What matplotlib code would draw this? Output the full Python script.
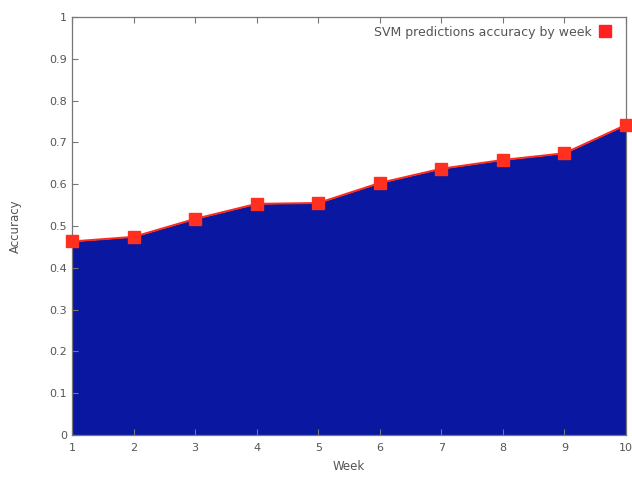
import numpy as np
import matplotlib
matplotlib.use("Agg")
import matplotlib.pyplot as plt
from matplotlib.lines import Line2D
from matplotlib.ticker import FuncFormatter

weeks = [1, 2, 3, 4, 5, 6, 7, 8, 9, 10]
accuracy = [0.463, 0.474, 0.517, 0.553, 0.555, 0.603, 0.637, 0.658, 0.674, 0.742]
label = "SVM predictions accuracy by week"

fig = plt.figure(figsize=(6.32, 4.79), dpi=100)
ax = fig.add_axes([0.114, 0.092, 0.8765, 0.8725])

ax.fill_between(weeks, accuracy, 0, color="#0a17a0", linewidth=0)
ax.plot(weeks, accuracy, color="#ff2a1a", linewidth=1.4, marker="s",
        markersize=8, markerfacecolor="#ff3020", markeredgecolor="#ff3020",
        clip_on=False, zorder=3)

ax.set_xlim(1, 10)
ax.set_ylim(0, 1)
ax.set_xticks(weeks)
ax.set_yticks(np.arange(0, 1.01, 0.1))
ax.yaxis.set_major_formatter(FuncFormatter(lambda v, p: f"{v:g}"))

grey = "#555555"
for s in ax.spines.values():
    s.set_color("#777777")
    s.set_linewidth(0.9)
ax.tick_params(direction="in", length=4, colors="#777777", labelcolor=grey,
               labelsize=8, top=True, right=False)
ax.tick_params(axis="x", pad=6)

ax.set_xlabel("Week", fontsize=8.5, color=grey, labelpad=5)
ax.set_ylabel("Accuracy", fontsize=8.5, color=grey, labelpad=20)

# legend: square marker only, to the right of the text
handle = Line2D([], [], linestyle="none", marker="s", markersize=9,
                markerfacecolor="#ff2020", markeredgecolor="#ff2020")
ax.legend([handle], [label], loc="upper right", frameon=False,
          markerfirst=False, fontsize=9, labelcolor=grey, handlelength=1.0,
          handletextpad=0.6, borderaxespad=0.3, bbox_to_anchor=(0.99, 1.0))

fig.savefig("out.png", dpi=100)
